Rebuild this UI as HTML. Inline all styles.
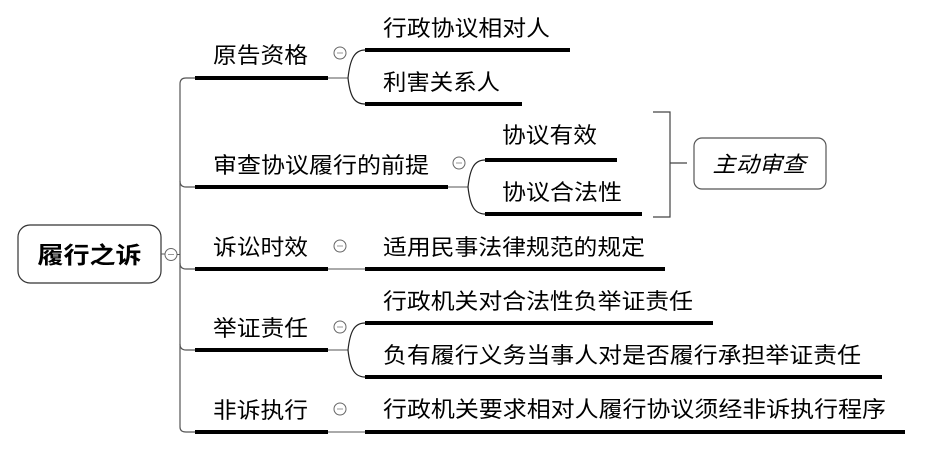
<!DOCTYPE html>
<html><head><meta charset="utf-8"><style>
html,body{margin:0;padding:0;background:#fff;}
svg{display:block;}
text{font-family:"Liberation Sans","Noto Sans CJK SC",sans-serif;fill:#000;}
</style></head><body>
<svg width="925" height="453" viewBox="0 0 925 453" xmlns="http://www.w3.org/2000/svg">
<!-- root -->
<rect x="18" y="225" width="143" height="58" rx="12" fill="#fff" stroke="#333" stroke-width="1.2"/>
<text x="89.5" y="263" font-size="23" font-weight="bold" text-anchor="middle" textLength="104" lengthAdjust="spacingAndGlyphs">履行之诉</text>
<line x1="161" y1="254" x2="165" y2="254" stroke="#555" stroke-width="1"/>
<circle cx="171" cy="254.5" r="6" fill="#fff" stroke="#666" stroke-width="1"/>
<line x1="168" y1="254.5" x2="174" y2="254.5" stroke="#999" stroke-width="1"/>
<line x1="177" y1="254.5" x2="180" y2="254.5" stroke="#555" stroke-width="1"/>
<!-- trunk -->
<path d="M195 78 H186 Q180 78 180 84 V427 Q180 432 186 432 H195" fill="none" stroke="#555" stroke-width="1.2"/>
<path d="M180 181 Q180 187 186 187 H195 M180 263 Q180 269 186 269 H195 M180 344 Q180 350 186 350 H195" fill="none" stroke="#555" stroke-width="1.2"/>
<!-- level1 underlines -->
<g stroke="#000" stroke-width="4">
<line x1="195" y1="78" x2="328" y2="78"/>
<line x1="195" y1="187" x2="448" y2="187"/>
<line x1="195" y1="269" x2="328" y2="269"/>
<line x1="195" y1="350" x2="328" y2="350"/>
<line x1="195" y1="432" x2="328" y2="432"/>
</g>
<g font-size="22">
<text x="213" y="63" textLength="95" lengthAdjust="spacingAndGlyphs">原告资格</text>
<text x="213" y="173" textLength="216" lengthAdjust="spacingAndGlyphs">审查协议履行的前提</text>
<text x="213" y="255" textLength="95" lengthAdjust="spacingAndGlyphs">诉讼时效</text>
<text x="213" y="336" textLength="95" lengthAdjust="spacingAndGlyphs">举证责任</text>
<text x="213" y="418" textLength="95" lengthAdjust="spacingAndGlyphs">非诉执行</text>
</g>
<!-- collapse circles -->
<g fill="#fff" stroke="#666" stroke-width="1">
<circle cx="340" cy="53" r="6"/><circle cx="459" cy="163" r="6"/><circle cx="340" cy="246" r="6"/><circle cx="340" cy="327" r="6"/><circle cx="340" cy="409" r="6"/>
</g>
<g stroke="#999" stroke-width="1">
<line x1="337" y1="53" x2="343" y2="53"/><line x1="456" y1="163" x2="462" y2="163"/><line x1="337" y1="246" x2="343" y2="246"/><line x1="337" y1="327" x2="343" y2="327"/><line x1="337" y1="409" x2="343" y2="409"/>
</g>
<!-- connectors -->
<g fill="none" stroke="#777" stroke-width="1.3">
<line x1="328" y1="78" x2="348" y2="78"/>
<line x1="448" y1="187" x2="468" y2="187"/>
<line x1="328" y1="269" x2="365" y2="269"/>
<line x1="328" y1="350" x2="348" y2="350"/>
<line x1="328" y1="432" x2="365" y2="432"/>
</g>
<g fill="none" stroke="#222" stroke-width="1.2">
<path d="M348 78 C350 60 354 50 365 50"/><path d="M348 78 C350 96 354 104 365 104"/>
<path d="M468 187 C470 169 474 160 485 160"/><path d="M468 187 C470 205 474 214 485 214"/>
<path d="M348 350 C350 332 354 323 365 323"/><path d="M348 350 C350 368 354 377 365 377"/>
</g>
<!-- level2 underlines -->
<g stroke="#000" stroke-width="4">
<line x1="365" y1="50" x2="570" y2="50"/>
<line x1="365" y1="104" x2="522" y2="104"/>
<line x1="485" y1="160" x2="617" y2="160"/>
<line x1="485" y1="214" x2="642" y2="214"/>
<line x1="365" y1="269" x2="665" y2="269"/>
<line x1="365" y1="323" x2="713" y2="323"/>
<line x1="365" y1="377" x2="882" y2="377"/>
<line x1="365" y1="432" x2="905" y2="432"/>
</g>
<g font-size="22">
<text x="383" y="36" textLength="167" lengthAdjust="spacingAndGlyphs">行政协议相对人</text>
<text x="383" y="90" textLength="117" lengthAdjust="spacingAndGlyphs">利害关系人</text>
<text x="502" y="143" textLength="95" lengthAdjust="spacingAndGlyphs">协议有效</text>
<text x="502" y="200" textLength="120" lengthAdjust="spacingAndGlyphs">协议合法性</text>
<text x="383" y="255" textLength="262" lengthAdjust="spacingAndGlyphs">适用民事法律规范的规定</text>
<text x="383" y="309" textLength="310" lengthAdjust="spacingAndGlyphs">行政机关对合法性负举证责任</text>
<text x="383" y="363" textLength="478" lengthAdjust="spacingAndGlyphs">负有履行义务当事人对是否履行承担举证责任</text>
<text x="383" y="417" textLength="503" lengthAdjust="spacingAndGlyphs">行政机关要求相对人履行协议须经非诉执行程序</text>
</g>
<!-- bracket / summary -->
<path d="M653 112 H670 V217 H653 M670 163 H687" fill="none" stroke="#444" stroke-width="1.2"/>
<rect x="694" y="138" width="132" height="51" rx="8" fill="#fff" stroke="#555" stroke-width="1.2"/>
<text x="759" y="172" font-size="22" font-style="italic" text-anchor="middle" textLength="93" lengthAdjust="spacingAndGlyphs" transform="skewX(0)">主动审查</text>
</svg>
</body></html>
